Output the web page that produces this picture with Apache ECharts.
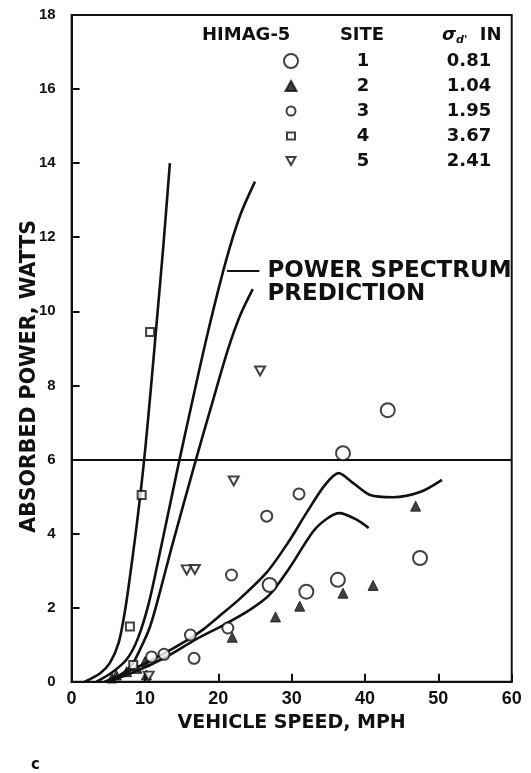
<!DOCTYPE html>
<html><head><meta charset="utf-8">
<script src="https://cdn.jsdelivr.net/npm/echarts@6/dist/echarts.min.js"></script>
<style>html,body{margin:0;padding:0;background:#fff}#c{width:531px;height:773px}</style>
</head><body><div id="c"></div>
<script>
// ---- data ----
const xTicks = [0, 10, 20, 30, 40, 50, 60];
const yTicks = [0, 2, 4, 6, 8, 10, 12, 14, 16, 18];
const siteNames = ['1', '2', '3', '4', '5'];
const sigmaIn = ['0.81', '1.04', '1.95', '3.67', '2.41'];

const site1 = [[43.1,7.33],[37.0,6.17],[47.5,3.34],[36.3,2.75],[32.0,2.43],[27.0,2.61]];
const site2 = [[5.5,0.1],[6.1,0.18],[7.5,0.27],[8.9,0.36],[10.0,0.54],[10.2,0.18],[21.9,1.2],[27.8,1.75],[31.1,2.04],[37.0,2.39],[41.1,2.6],[46.9,4.74]];
const site3 = [[31.0,5.07],[26.6,4.47],[21.8,2.88],[21.3,1.45],[16.2,1.26],[16.7,0.63],[10.9,0.67],[12.6,0.74]];
const site4 = [[7.95,1.49],[9.55,5.04],[10.7,9.44],[8.4,0.45]];
const site5 = [[25.7,8.39],[22.1,5.42],[15.7,3.02],[16.8,3.03],[10.5,0.15]];

const predA = [[1.8,0],[3.9,0.23],[5.2,0.5],[6.4,1.04],[7.3,1.94],[8.0,2.9],[8.7,3.95],[9.4,5.1],[10.05,6.3],[10.8,7.9],[11.6,9.7],[12.5,11.75],[13.4,14.0]];
const predB = [[3.4,0],[5.5,0.25],[7.5,0.6],[9.0,1.15],[10.5,2.1],[12.0,3.45],[14.5,5.8],[16.6,7.7],[18.6,9.45],[21.1,11.4],[23.0,12.6],[25.0,13.5]];
const predC = [[5.2,0],[8.0,0.4],[9.3,0.86],[10.7,1.49],[12.0,2.39],[13.6,3.6],[17.0,6.03],[18.9,7.34],[21.3,8.96],[23.0,9.9],[24.7,10.6]];
const predD = [[4.5,0],[8,0.3],[12,0.7],[16,1.15],[18,1.42],[20,1.75],[23,2.25],[26.6,2.95],[29.5,3.75],[32,4.55],[34.5,5.3],[36.4,5.63],[38.4,5.36],[40.7,5.04],[43.8,4.98],[47.5,5.12],[50.5,5.45]];
const predE = [[5,0],[9,0.3],[13,0.68],[17,1.15],[20.7,1.53],[24.3,1.94],[27,2.35],[29.8,3.1],[32.9,4.05],[34.8,4.4],[36.5,4.55],[38.9,4.37],[40.5,4.15]];

const refLevel = 6;
const annotLeader = [[21.2, 11.1], [25.6, 11.1]];
const annotText = ' \nPOWER SPECTRUM\nPREDICTION';

// ---- styling ----
const INK = '#111';
const TF = 'DejaVu Sans';
const NF = 'Liberation Sans';

const chart = echarts.init(document.getElementById('c'), null, {renderer: 'canvas'});

function predSeries(name, data, extra) {
  return Object.assign({
    name: name, type: 'line', data: data, smooth: 0.3, showSymbol: false,
    lineStyle: {color: INK, width: 2.6}, z: 2, silent: true
  }, extra || {});
}
const markerStyle = {color: '#fff', borderColor: INK, borderWidth: 2};

const option = {
  animation: false,
  backgroundColor: '#fff',
  title: [{
    left: 202, top: 24, padding: 0,
    text: '{h|HIMAG-5}{s|SITE}{g|σ}{d|d\'}{i|  IN}',
    textStyle: {
      rich: {
        h: {fontFamily: TF, fontWeight: 'bold', fontSize: 18, color: INK, width: 100, lineHeight: 22},
        s: {fontFamily: TF, fontWeight: 'bold', fontSize: 18, color: INK, width: 120, align: 'center', lineHeight: 22},
        g: {fontFamily: TF, fontWeight: 'bold', fontStyle: 'italic', fontSize: 18, color: INK, padding: [0, 0, 0, 20], lineHeight: 22},
        d: {fontFamily: TF, fontWeight: 'bold', fontStyle: 'italic', fontSize: 11, color: INK, verticalAlign: 'bottom', lineHeight: 18},
        i: {fontFamily: TF, fontWeight: 'bold', fontSize: 18, color: INK, lineHeight: 22}
      }
    }
  }, {
    left: 31, top: 758, padding: 0, text: 'c',
    textStyle: {fontFamily: TF, fontWeight: 'bold', fontSize: 15, color: INK}
  }],
  legend: {
    orient: 'vertical', left: 283, top: 52, padding: 0,
    itemWidth: 14, itemHeight: 14, itemGap: 7, selectedMode: false,
    data: [
      {name: '1', icon: 'circle'},
      {name: '2', icon: 'path://M0,0M14,14M7,2L12.5,12L1.5,12Z'},
      {name: '3', icon: 'path://M0,0M14,14M2.5,7A4.5,4.5 0 1 1 11.5,7A4.5,4.5 0 1 1 2.5,7Z'},
      {name: '4', icon: 'path://M0,0M14,14M3,3.5L11,3.5L11,10.5L3,10.5Z'},
      {name: '5', icon: 'path://M0,0M14,14M2.5,3L11.5,3L7,11Z'}
    ],
    formatter: function (n) {
      const i = siteNames.indexOf(n);
      return '{s|' + n + '}{v|' + sigmaIn[i] + '}';
    },
    textStyle: {
      padding: 0,
      rich: {
        s: {fontFamily: TF, fontWeight: 'bold', fontSize: 18, color: INK, width: 120, align: 'center', lineHeight: 20},
        v: {fontFamily: TF, fontWeight: 'bold', fontSize: 18, color: INK, width: 92, align: 'center', lineHeight: 20}
      }
    }
  },
  grid: {left: 71.6, right: 19.3, top: 15, bottom: 91.3, show: true, borderColor: INK, borderWidth: 2, backgroundColor: 'transparent'},
  xAxis: {
    type: 'value', min: xTicks[0], max: xTicks[xTicks.length - 1], interval: 10,
    name: 'VEHICLE SPEED, MPH', nameLocation: 'middle', nameGap: 32, nameMoveOverlap: false,
    nameTextStyle: {fontFamily: TF, fontWeight: 'bold', fontSize: 19, color: INK},
    axisLine: {show: true, lineStyle: {color: INK, width: 2}},
    axisTick: {show: true, inside: true, length: 8, lineStyle: {color: INK, width: 2}},
    axisLabel: {fontFamily: NF, fontWeight: 'bold', fontSize: 18, color: INK, margin: 8},
    splitLine: {show: false}
  },
  yAxis: {
    type: 'value', min: yTicks[0], max: yTicks[yTicks.length - 1], interval: 2,
    name: 'ABSORBED POWER, WATTS', nameLocation: 'middle', nameGap: 31, nameRotate: 90, nameMoveOverlap: false,
    nameTextStyle: {fontFamily: TF, fontWeight: 'bold', fontSize: 20.5, color: INK, padding: [0, 56, 0, 0]},
    axisLine: {show: true, lineStyle: {color: INK, width: 2}},
    axisTick: {show: true, inside: true, length: 8, lineStyle: {color: INK, width: 2}},
    axisLabel: {fontFamily: NF, fontWeight: 'bold', fontSize: 15, color: INK, margin: 16},
    splitLine: {show: false}
  },
  series: [
    predSeries('predA', predA, {
      markLine: {
        silent: true, symbol: ['none', 'none'], label: {show: false},
        lineStyle: {color: INK, width: 2.2, type: 'solid'},
        data: [{yAxis: refLevel}]
      }
    }),
    predSeries('predB', predB, {
      markLine: {
        silent: true, symbol: ['none', 'none'],
        lineStyle: {color: INK, width: 2.2, type: 'solid'},
        label: {
          show: true, position: 'end', distance: 8, formatter: annotText,
          fontFamily: TF, fontWeight: 'bold', fontSize: 23, lineHeight: 23.5, color: INK,
          align: 'left'
        },
        data: [[{coord: annotLeader[0]}, {coord: annotLeader[1]}]]
      }
    }),
    predSeries('predC', predC),
    predSeries('predD', predD),
    predSeries('predE', predE),
    {name: '1', type: 'scatter', data: site1, symbol: 'circle', symbolSize: 14, itemStyle: markerStyle, z: 5},
    {name: '2', type: 'scatter', data: site2, symbol: 'triangle', symbolSize: 10, itemStyle: {color: INK, borderColor: INK, borderWidth: 1}, z: 5},
    {name: '3', type: 'scatter', data: site3, symbol: 'circle', symbolSize: 11, itemStyle: markerStyle, z: 5},
    {name: '4', type: 'scatter', data: site4, symbol: 'rect', symbolSize: 8, itemStyle: markerStyle, z: 5},
    {name: '5', type: 'scatter', data: site5, symbol: 'path://M0,0L10,0L5,9Z', symbolSize: [10, 9], itemStyle: markerStyle, z: 5}
  ]
};
chart.setOption(option);
</script></body></html>
